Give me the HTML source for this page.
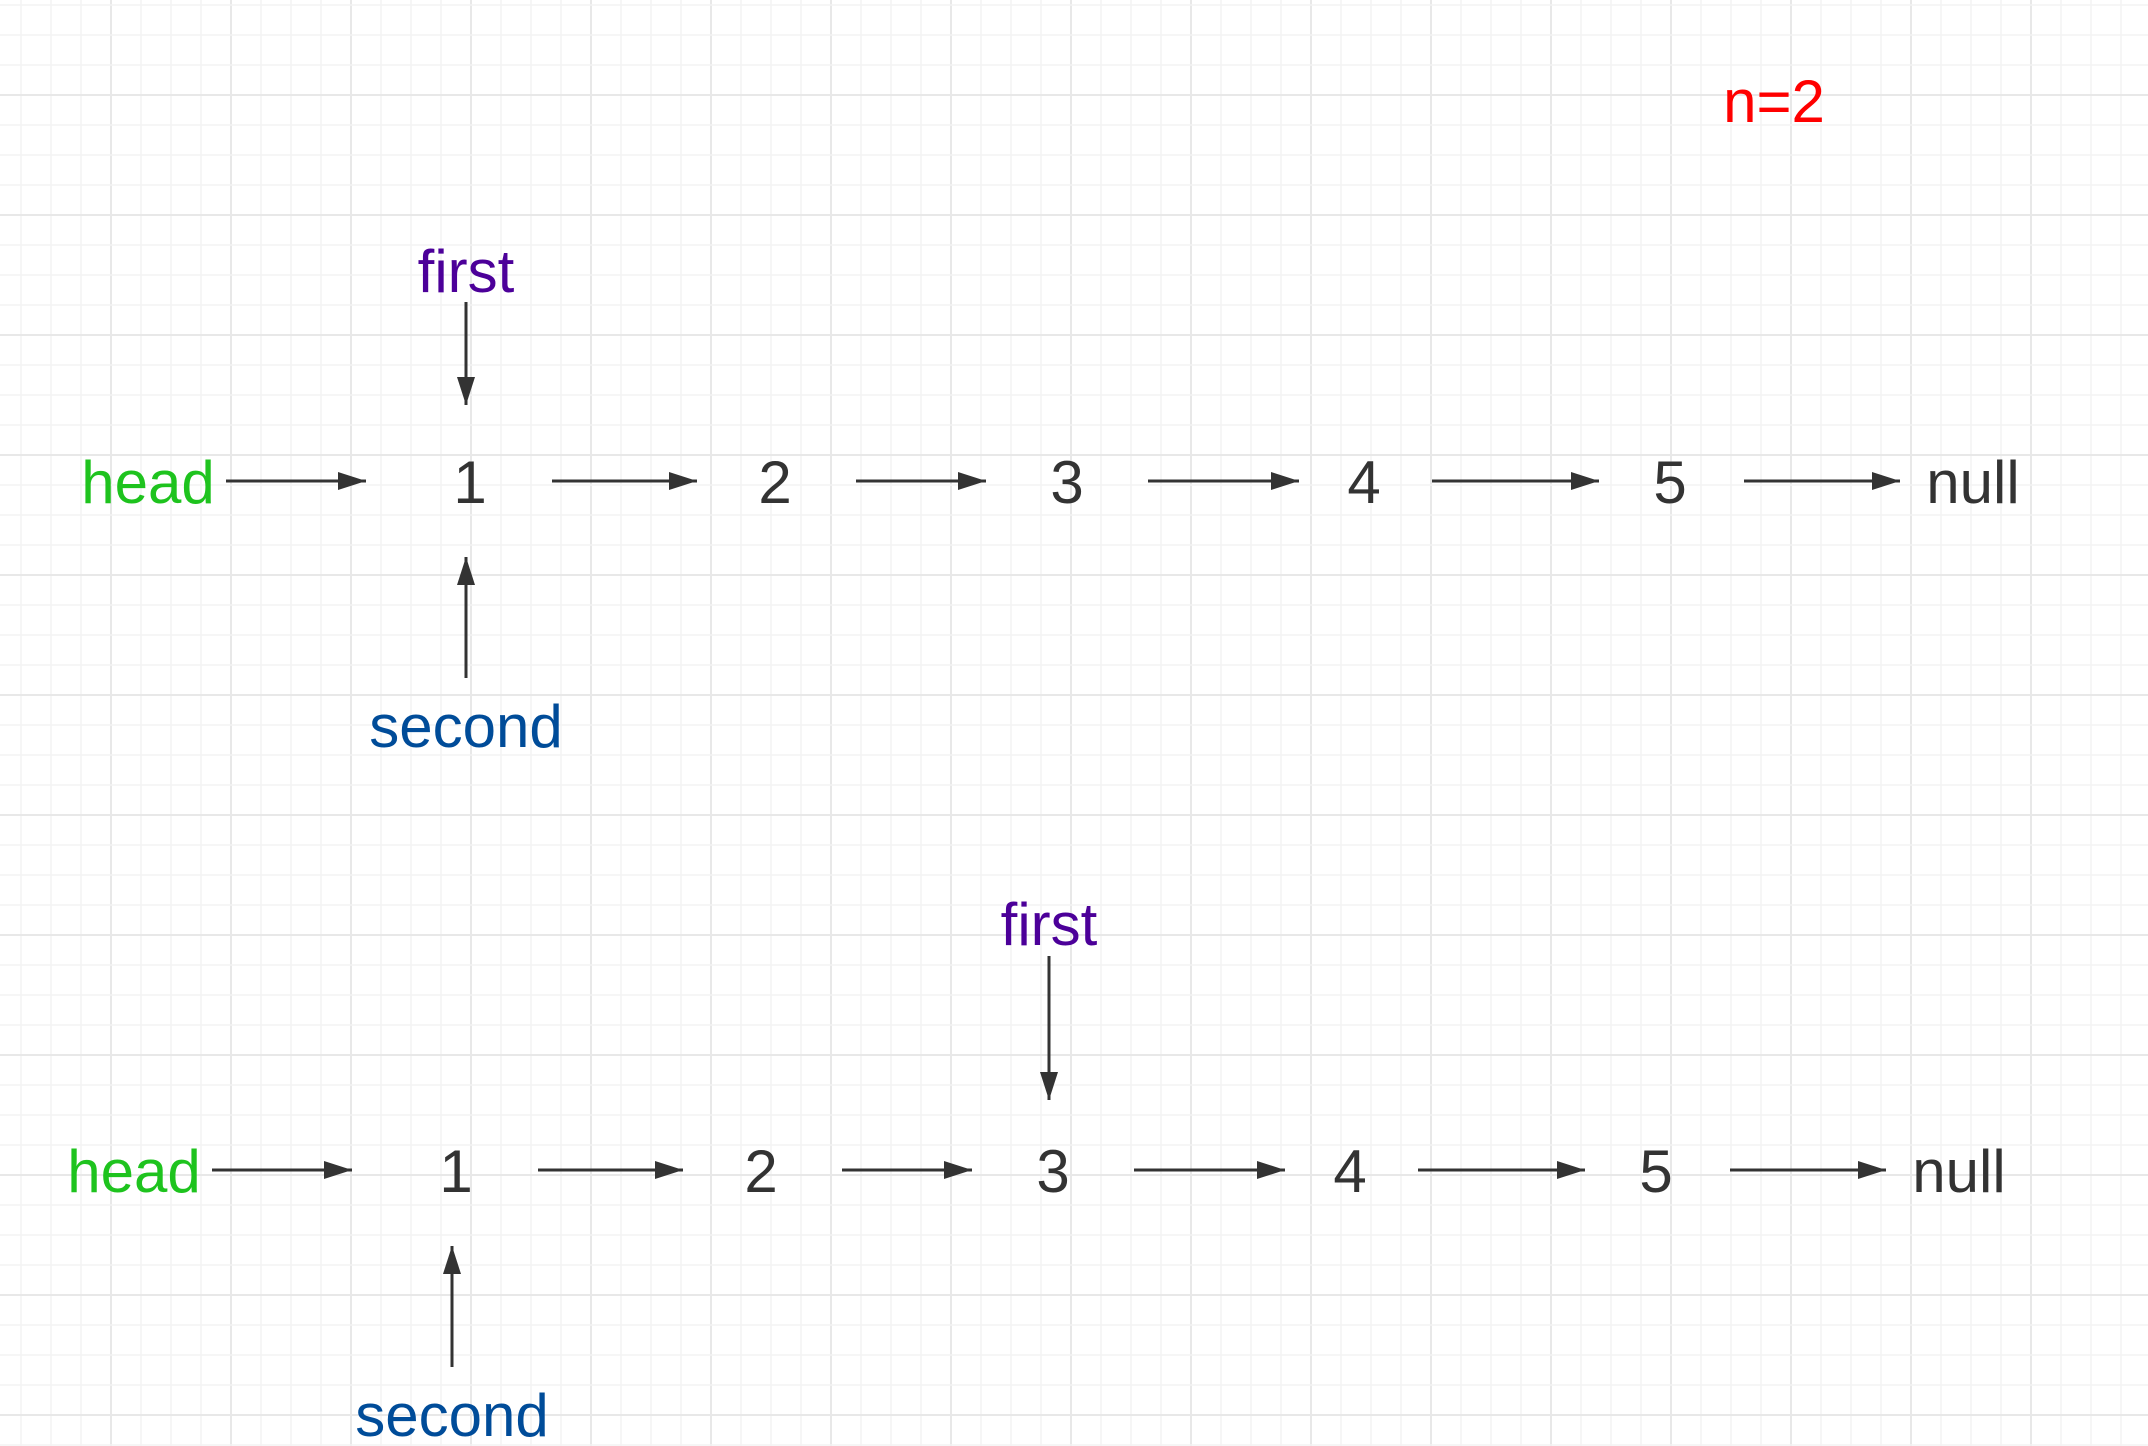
<!DOCTYPE html>
<html><head><meta charset="utf-8"><style>
html,body{margin:0;padding:0;background:#fff;}
svg{display:block;}
text{font-family:"Liberation Sans",sans-serif;font-size:60px;}
</style></head><body>
<svg id="c" width="2148" height="1446" viewBox="0 0 2148 1446" xmlns="http://www.w3.org/2000/svg">
<defs><marker id="ah" markerWidth="28" markerHeight="18" refX="28" refY="9" orient="auto" markerUnits="userSpaceOnUse"><path d="M0,0 L28,9 L0,18 Z" fill="#333"/></marker></defs>
<g id="grid"></g>
<g id="marks"></g>
</svg>
<script>
const nodeLabels=["1","2","3","4","5","null"];
const row1NodeX=[470,775,1067,1364,1670,1973];
const row1ArrowStart=[226,552,856,1148,1432,1744];
const row1ArrowEnd=[366,697,986,1299,1599,1900];
const rowY=[481,1170];
const rowShift=[0,-14];
const firstIndex=[0,2];
const secondIndex=[0,0];
const firstTextOffset=[189,225];
const firstArrowTop=[179,214];
const firstArrowBottom=[76,70];
const ns="http://www.w3.org/2000/svg";
const grid=document.getElementById('grid');
for(let x=21;x<2148;x+=30){const l=document.createElementNS(ns,'line');


const major=((x-111)%120===0);l.setAttribute('x1',x);l.setAttribute('x2',x);l.setAttribute('y1',0);l.setAttribute('y2',1446);l.setAttribute('stroke',major?'#e8e8e8':'#f3f3f3');l.setAttribute('stroke-width',major?2:1.5);grid.appendChild(l);}
for(let y=5;y<1446;y+=30){const l=document.createElementNS(ns,'line');


const major=((y-95)%120===0);l.setAttribute('y1',y);l.setAttribute('y2',y);l.setAttribute('x1',0);l.setAttribute('x2',2148);l.setAttribute('stroke',major?'#e8e8e8':'#f3f3f3');l.setAttribute('stroke-width',major?2:1.5);grid.appendChild(l);}
const g=document.getElementById('marks');
function txt(s,x,y,fill,name){const t=document.createElementNS(ns,'text');


t.setAttribute('x',x);t.setAttribute('y',y);t.setAttribute('fill',fill);t.setAttribute('text-anchor','middle');t.textContent=s;g.appendChild(t);}
function arr(x1,y1,x2,y2,name){const l=document.createElementNS(ns,'line');


l.setAttribute('x1',x1);l.setAttribute('y1',y1);l.setAttribute('x2',x2);l.setAttribute('y2',y2);l.setAttribute('stroke','#333');l.setAttribute('stroke-width',3);l.setAttribute('marker-end','url(#ah)');g.appendChild(l);}
txt('n=2',1774,122,'#ff0000','n-label');
rowY.forEach((y,r)=>{const d=rowShift[r];
 txt('head',148+d,y+22,'#1ec31e','head-label');
 nodeLabels.forEach((s,i)=>{txt(s,row1NodeX[i]+d,y+22,'#333','node-'+s);
  arr(row1ArrowStart[i]+d,y,row1ArrowEnd[i]+d,y,'next-arrow');});
 const fx=row1NodeX[firstIndex[r]]+d-4, sx=row1NodeX[secondIndex[r]]+d-4;
 txt('first',fx,y-firstTextOffset[r],'#4c0099','first-label');
 arr(fx,y-firstArrowTop[r],fx,y-firstArrowBottom[r],'first-pointer-arrow');
 txt('second',sx,y+266,'#004c99','second-label');
 arr(sx,y+197,sx,y+76,'second-pointer-arrow');
});
</script>
</body></html>
